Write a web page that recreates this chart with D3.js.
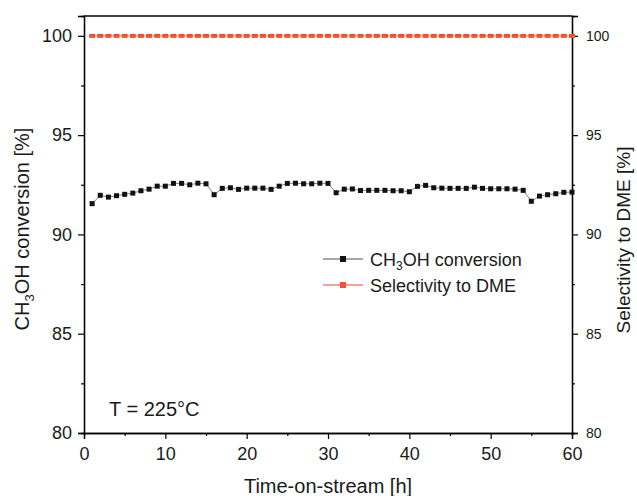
<!DOCTYPE html>
<html>
<head>
<meta charset="utf-8">
<script src="https://cdn.jsdelivr.net/npm/d3@7"></script>
<style>
  body { margin: 0; background: #fff; }
  svg text { font-family: "Liberation Sans", Arial, sans-serif; fill: #1a1a1a; }
</style>
</head>
<body>
<div id="chart"></div>
<script>
// time on stream [h]
const hours = [1, 2, 3, 4, 5, 6, 7, 8, 9, 10, 11, 12, 13, 14, 15, 16, 17, 18, 19, 20,
  21, 22, 23, 24, 25, 26, 27, 28, 29, 30, 31, 32, 33, 34, 35, 36, 37, 38, 39, 40,
  41, 42, 43, 44, 45, 46, 47, 48, 49, 50, 51, 52, 53, 54, 55, 56, 57, 58, 59, 60];

// CH3OH conversion [%]
const conversion = [91.55, 91.97, 91.88, 91.95, 92.02, 92.08, 92.2, 92.28, 92.43, 92.43,
  92.57, 92.57, 92.5, 92.58, 92.55, 92.0, 92.32, 92.35, 92.27, 92.33,
  92.33, 92.33, 92.27, 92.43, 92.57, 92.58, 92.55, 92.55, 92.58, 92.57,
  92.1, 92.28, 92.29, 92.21, 92.22, 92.22, 92.22, 92.2, 92.2, 92.15,
  92.42, 92.47, 92.35, 92.33, 92.32, 92.32, 92.32, 92.38, 92.32, 92.3,
  92.3, 92.3, 92.28, 92.22, 91.67, 91.93, 92.0, 92.05, 92.12, 92.13];

// Selectivity to DME [%]
const selectivity = [100, 100, 100, 100, 100, 100, 100, 100, 100, 100,
  100, 100, 100, 100, 100, 100, 100, 100, 100, 100,
  100, 100, 100, 100, 100, 100, 100, 100, 100, 100,
  100, 100, 100, 100, 100, 100, 100, 100, 100, 100,
  100, 100, 100, 100, 100, 100, 100, 100, 100, 100,
  100, 100, 100, 100, 100, 100, 100, 100, 100, 100];

const xTicks = [0, 10, 20, 30, 40, 50, 60];
const xMinorTicks = [5, 15, 25, 35, 45, 55];
const yTicks = [80, 85, 90, 95, 100];
const yMinorTicks = [82.5, 87.5, 92.5, 97.5];

const width = 637, height = 496;
const margin = { top: 16, right: 65, bottom: 63, left: 84 };

const svg = d3.select('#chart').append('svg')
  .attr('width', width)
  .attr('height', height);

const x = d3.scaleLinear().domain([0, 60]).range([margin.left, width - margin.right]);
const y = d3.scaleLinear().domain([80, 101]).range([height - margin.bottom, margin.top]);

const blackColor = '#111';
const redColor = '#f2512f';

// frame
svg.append('line')
  .attr('x1', x(0)).attr('x2', x(60))
  .attr('y1', y(101)).attr('y2', y(101))
  .attr('stroke', '#000').attr('stroke-width', 1.3);

// axes
const bottom = svg.append('g')
  .attr('transform', `translate(0,${y(80)})`)
  .call(d3.axisBottom(x).tickValues(xTicks).tickSize(6).tickPadding(8));
const bottomMinor = svg.append('g')
  .attr('transform', `translate(0,${y(80)})`)
  .call(d3.axisBottom(x).tickValues(xMinorTicks).tickSize(3).tickFormat(''));

const left = svg.append('g')
  .attr('transform', `translate(${x(0)},0)`)
  .call(d3.axisLeft(y).tickValues(yTicks).tickSize(6).tickPadding(6));
const leftMinor = svg.append('g')
  .attr('transform', `translate(${x(0)},0)`)
  .call(d3.axisLeft(y).tickValues(yMinorTicks).tickSize(3).tickFormat(''));

const right = svg.append('g')
  .attr('transform', `translate(${x(60)},0)`)
  .call(d3.axisRight(y).tickValues(yTicks).tickSize(6).tickPadding(8));
const rightMinor = svg.append('g')
  .attr('transform', `translate(${x(60)},0)`)
  .call(d3.axisRight(y).tickValues(yMinorTicks).tickSize(3).tickFormat(''));

[bottom, bottomMinor, left, leftMinor, right, rightMinor].forEach(g => {
  g.select('.domain').attr('stroke', '#000').attr('stroke-width', 1.3);
  g.selectAll('.tick line').attr('stroke', '#000').attr('stroke-width', 1.2);
});
bottom.selectAll('.tick text').attr('font-size', 18);
left.selectAll('.tick text').attr('font-size', 18);
right.selectAll('.tick text').attr('font-size', 14);

// series
function drawSeries(values, color, lineColor, w, h) {
  const pts = hours.map((d, i) => ({ x: d, y: values[i] }));
  const line = d3.line().x(d => x(d.x)).y(d => y(d.y));
  svg.append('path')
    .datum(pts)
    .attr('fill', 'none')
    .attr('stroke', lineColor)
    .attr('stroke-width', 0.9)
    .attr('d', line);
  svg.append('g').selectAll('rect')
    .data(pts)
    .join('rect')
    .attr('x', d => x(d.x) - w / 2)
    .attr('y', d => y(d.y) - h / 2)
    .attr('width', w)
    .attr('height', h)
    .attr('fill', color);
}
drawSeries(conversion, blackColor, '#6f6f80', 5, 5);
drawSeries(selectivity, redColor, '#f47a60', 6, 4);

// legend
const legend = svg.append('g').attr('transform', 'translate(323,259)');
const legendItems = [
  { color: blackColor, line: '#8a8798', label: 'conv' },
  { color: redColor, line: '#f4806a', label: 'Selectivity to DME' }
];
legendItems.forEach((d, i) => {
  const row = legend.append('g').attr('transform', `translate(0,${i * 26})`);
  row.append('line').attr('x1', 0).attr('x2', 40).attr('y1', 0).attr('y2', 0)
    .attr('stroke', d.line).attr('stroke-width', 1.3);
  row.append('rect').attr('x', 17).attr('y', -3).attr('width', 6).attr('height', 6)
    .attr('fill', d.color);
  const t = row.append('text').attr('x', 47).attr('y', 6.5).attr('font-size', 18);
  if (d.label === 'conv') {
    t.append('tspan').text('CH');
    t.append('tspan').attr('font-size', 12).attr('dy', 4).text('3');
    t.append('tspan').attr('dy', -4).text('OH conversion');
  } else {
    t.text(d.label);
  }
});

// annotation
svg.append('text')
  .attr('x', 109).attr('y', 416)
  .attr('font-size', 20)
  .text('T = 225°C');

// axis labels
svg.append('text')
  .attr('x', x(30)).attr('y', 493)
  .attr('text-anchor', 'middle')
  .attr('font-size', 20)
  .text('Time-on-stream [h]');

const yLabel = svg.append('text')
  .attr('transform', `translate(29,229) rotate(-90)`)
  .attr('text-anchor', 'middle')
  .attr('font-size', 20);
yLabel.append('tspan').text('CH');
yLabel.append('tspan').attr('font-size', 13).attr('dy', 5).text('3');
yLabel.append('tspan').attr('dy', -5).text('OH conversion [%]');

svg.append('text')
  .attr('transform', `translate(630,240) rotate(-90)`)
  .attr('text-anchor', 'middle')
  .attr('font-size', 19)
  .text('Selectivity to DME [%]');
</script>
</body>
</html>
